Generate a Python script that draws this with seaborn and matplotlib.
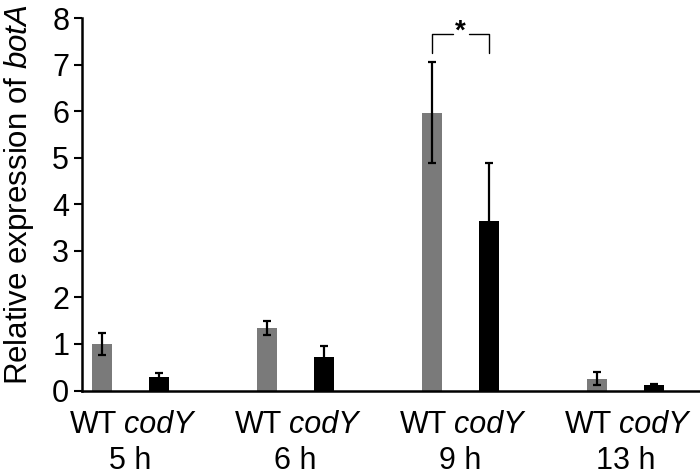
import matplotlib
matplotlib.use("Agg")
import matplotlib.pyplot as plt
import matplotlib.transforms as mtransforms
import seaborn as sns
import pandas as pd
import numpy as np

times = ["5 h", "6 h", "9 h", "13 h"]
strains = ["WT", "codY"]
wt_mean = [1.00, 1.34, 5.97, 0.25]
wt_err = [0.24, 0.15, 1.08, 0.14]
cody_mean = [0.30, 0.71, 3.65, 0.11]
cody_err = [0.08, 0.24, 1.24, 0.04]
colors = {"WT": "#7a7a7a", "codY": "#000000"}

df = pd.DataFrame({
    "time": times * 2,
    "strain": ["WT"] * 4 + ["codY"] * 4,
    "value": wt_mean + cody_mean,
    "err": wt_err + cody_err,
})

sns.set_style("ticks")
plt.rcParams["font.family"] = ["Liberation Sans", "DejaVu Sans"]
plt.rcParams["text.color"] = "black"
plt.rcParams["axes.labelcolor"] = "black"
plt.rcParams["xtick.color"] = "black"
plt.rcParams["ytick.color"] = "black"
plt.rcParams["axes.edgecolor"] = "black"
plt.rcParams["mathtext.fontset"] = "custom"
plt.rcParams["mathtext.rm"] = "Liberation Sans"
plt.rcParams["mathtext.it"] = "Liberation Sans:italic"

FS = 22

fig = plt.figure(figsize=(7, 4.75), dpi=100)
ax = fig.add_axes([81.7 / 700, 1 - 390.5 / 475, (700 - 81.7) / 700, (390.5 - 18.3) / 475])

sns.barplot(data=df, x="time", y="value", hue="strain", order=times,
            hue_order=strains, palette=colors, width=0.69, gap=0.649,
            errorbar=None, legend=False, ax=ax, saturation=1, linewidth=0)

patches = [p for p in ax.patches if p.get_height() > 0]
errs = wt_err + cody_err
for p, e in zip(patches, errs):
    xc = p.get_x() + p.get_width() / 2
    ax.errorbar(xc, p.get_height(), yerr=e, fmt="none", ecolor="black",
                elinewidth=1.6, capsize=2.8, capthick=1.6, zorder=5)

ax.set_ylim(0, 8)
ax.set_xlim(-0.296, 3.45)
ax.set_yticks(range(0, 9))
ax.tick_params(axis="y", labelsize=FS, length=6, width=1.5, direction="out", pad=3)
ax.set_xticks([])

xcs = [p.get_x() + p.get_width() / 2 for p in patches]
trans = mtransforms.blended_transform_factory(ax.transData, fig.transFigure)
off = 9 / 165
for i in range(4):
    ax.text(xcs[i] - off, 1 - 425 / 475, "WT", transform=trans, ha="center",
            va="center", fontsize=FS)
    ax.text(xcs[i + 4], 1 - 425 / 475, "codY", transform=trans, ha="center",
            va="center", fontsize=FS, fontstyle="italic")
for i, t in enumerate(times):
    ax.text(i, 1 - 461 / 475, t, transform=trans, ha="center", va="center", fontsize=FS)

ax.set_xlabel("")
ax.set_ylabel("Relative expression of $\\it{botA}$", fontsize=22.5)
ax.yaxis.set_label_coords(-0.074, 0.526)

sns.despine(ax=ax)
for s in ["left", "bottom"]:
    ax.spines[s].set_linewidth(1.8)

x1, x2 = xcs[2], xcs[6]
xm = (x1 + x2) / 2
gapw = (x2 - x1) * 0.14
yb, yt = 7.25, 7.67
ax.plot([x1, x1, xm - gapw], [yb, yt, yt], color="black", lw=1.0, clip_on=False)
ax.plot([xm + gapw, x2, x2], [yt, yt, yb], color="black", lw=1.0, clip_on=False)
ax.text(xm, yt + 0.05, "*", ha="center", va="center", fontsize=20, fontweight="bold")

fig.savefig("out.png", dpi=100)
